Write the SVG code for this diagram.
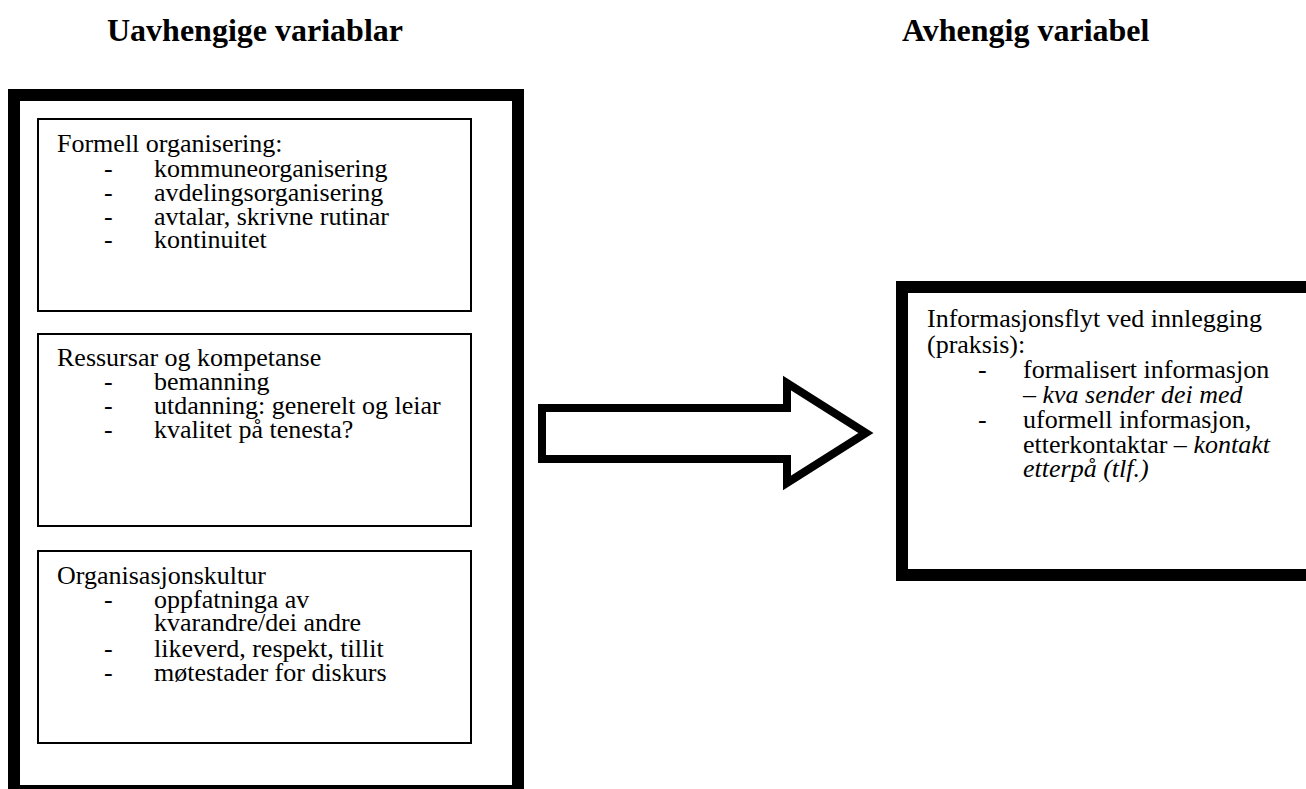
<svg xmlns="http://www.w3.org/2000/svg" width="1306" height="789" viewBox="0 0 1306 789">
<style>
text{font-family:"Liberation Serif","Times New Roman",serif;fill:#000}
.h{font-size:32px;font-weight:bold}
.t{font-size:26px}
.i{font-style:italic}
.thick{fill:#fff;stroke:#000;stroke-width:12}
.thin{fill:#fff;stroke:#000;stroke-width:2}
</style>
<rect width="1306" height="789" fill="#fff"/>
<g id="headings">
<text class="h" x="107" y="41">Uavhengige variablar</text>
<text class="h" x="902" y="41">Avhengig variabel</text>
</g>
<g id="independent">
<rect class="thick" x="14" y="95" width="504" height="696"/>
</g>
<g id="formell">
<rect class="thin" x="38" y="119" width="433" height="192"/>
<text class="t" x="57" y="152">Formell organisering:</text>
<text class="t" x="104" y="177">-</text><text class="t" x="154" y="177">kommuneorganisering</text>
<text class="t" x="104" y="201">-</text><text class="t" x="154" y="201">avdelingsorganisering</text>
<text class="t" x="104" y="225">-</text><text class="t" x="154" y="225">avtalar, skrivne rutinar</text>
<text class="t" x="104" y="248">-</text><text class="t" x="154" y="248">kontinuitet</text>
</g>
<g id="ressursar">
<rect class="thin" x="38" y="334" width="433" height="192"/>
<text class="t" x="57" y="366">Ressursar og kompetanse</text>
<text class="t" x="104" y="390">-</text><text class="t" x="154" y="390">bemanning</text>
<text class="t" x="104" y="414">-</text><text class="t" x="154" y="414">utdanning: generelt og leiar</text>
<text class="t" x="104" y="438">-</text><text class="t" x="154" y="438">kvalitet på tenesta?</text>
</g>
<g id="kultur">
<rect class="thin" x="38" y="551" width="433" height="192"/>
<text class="t" x="57" y="584">Organisasjonskultur</text>
<text class="t" x="104" y="608">-</text><text class="t" x="154" y="608">oppfatninga av</text>
<text class="t" x="154" y="631">kvarandre/dei andre</text>
<text class="t" x="104" y="657">-</text><text class="t" x="154" y="657">likeverd, respekt, tillit</text>
<text class="t" x="104" y="681">-</text><text class="t" x="154" y="681">møtestader for diskurs</text>
</g>
<g id="connectors">
<path d="M542,408 H787 V383 L866,433 L787,483 V459 H542 Z" fill="#fff" stroke="#000" stroke-width="8" stroke-miterlimit="10"/>
</g>
<g id="informasjonsflyt">
<rect class="thick" x="902" y="287" width="410" height="288"/>
<text class="t" x="927" y="327">Informasjonsflyt ved innlegging</text>
<text class="t" x="927" y="353">(praksis):</text>
<text class="t" x="978" y="378">-</text><text class="t" x="1023" y="378">formalisert informasjon</text>
<text class="t" x="1023" y="403">– <tspan class="i">kva sender dei med</tspan></text>
<text class="t" x="978" y="428">-</text><text class="t" x="1023" y="428">uformell informasjon,</text>
<text class="t" x="1023" y="453">etterkontaktar – <tspan class="i">kontakt</tspan></text>
<text class="t i" x="1023" y="477">etterpå (tlf.)</text>
</g>
</svg>
